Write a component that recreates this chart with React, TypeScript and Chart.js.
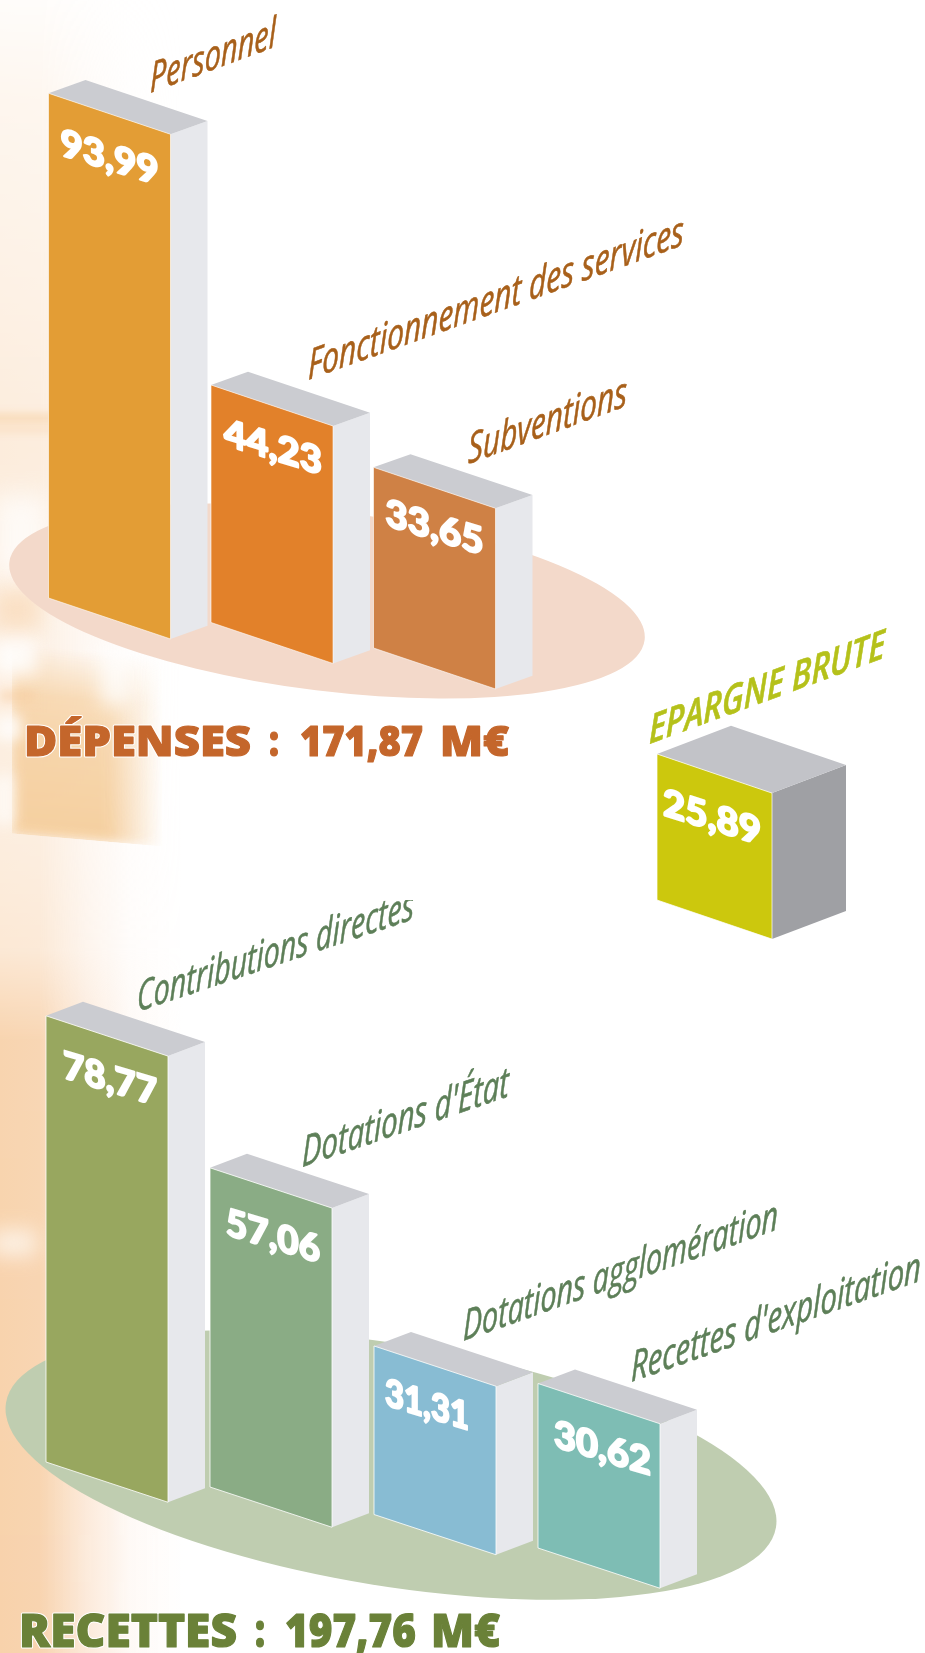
import React, { useEffect, useRef } from "react";
import { Chart, registerables } from "chart.js";

Chart.register(...registerables);

// ---- data ----
const depCategories = ["Personnel", "Fonctionnement des services", "Subventions"];
const depValues = [93.99, 44.23, 33.65];
const depColors = ["#e39d35", "#e2812a", "#cf8145"];
const depTitle = "DÉPENSES : 171,87 M€";

const recCategories = ["Contributions directes", "Dotations d'État", "Dotations agglomération", "Recettes d'exploitation"];
const recValues = [78.77, 57.06, 31.31, 30.62];
const recColors = ["#98a75f", "#8aac85", "#88bcd3", "#7ebdb4"];
const recTitle = "RECETTES : 197,76 M€";

const epCategories = ["EPARGNE BRUTE"];
const epValues = [25.89];
const epColors = ["#ccc80d"];

const fmt = (v: number) => v.toFixed(2).replace(".", ",");

// ---- style helpers ----
function skewText(ctx: CanvasRenderingContext2D, text: string, x: number, y: number, width: number, slope: number, font: string, color: string, outline?: string, thicken = 0) {
  ctx.save();
  ctx.font = font;
  ctx.textBaseline = "alphabetic";
  ctx.textAlign = "left";
  const sx = width / ctx.measureText(text).width;
  ctx.translate(x, y);
  ctx.transform(1, slope, 0, 1, 0, 0);
  ctx.scale(sx, 1);
  ctx.lineJoin = "round";
  if (outline) {
    ctx.strokeStyle = outline;
    ctx.lineWidth = thicken + 2;
    ctx.strokeText(text, 0, 0);
  }
  if (thicken) {
    ctx.strokeStyle = color;
    ctx.lineWidth = thicken;
    ctx.strokeText(text, 0, 0);
  }
  ctx.fillStyle = color;
  ctx.fillText(text, 0, 0);
  ctx.restore();
}

function poly(ctx: CanvasRenderingContext2D, pts: number[][], fill: string, stroke?: string) {
  ctx.beginPath();
  pts.forEach((p, i) => (i ? ctx.lineTo(p[0], p[1]) : ctx.moveTo(p[0], p[1])));
  ctx.closePath();
  ctx.fillStyle = fill;
  ctx.fill();
  if (stroke) {
    ctx.strokeStyle = stroke;
    ctx.lineWidth = 1;
    ctx.stroke();
  }
}

const bars3d = {
  id: "bars3d",
  beforeDatasetsDraw(chart: any, _a: any, o: any) {
    const { ctx } = chart;
    if (o.ellipse) {
      const e = o.ellipse;
      ctx.save();
      ctx.beginPath();
      ctx.ellipse(e.cx, e.cy, e.rx, e.ry, (e.angle * Math.PI) / 180, 0, Math.PI * 2);
      ctx.fillStyle = e.color;
      ctx.fill();
      ctx.restore();
    }
  },
  beforeDatasetDraw(chart: any, args: any, o: any) {
    const { ctx } = chart;
    const k = o.slope, d = o.depth, m = o.rise;
    args.meta.data.forEach((el: any, i: number) => {
      const p = el.getProps(["x", "y", "base", "width"], true);
      const w = p.width;
      const L = p.x - w / 2;
      const st = o.stagger[i];
      const top = p.y + st, bot = p.base + st;
      const color = chart.data.datasets[args.index].backgroundColor[i];
      poly(ctx, [[L + w, top + k * w], [L + w + d, top + k * w - d * m], [L + w + d, bot + k * w - d * m], [L + w, bot + k * w]], o.sideColor);
      poly(ctx, [[L, top], [L + d, top - d * m], [L + w + d, top + k * w - d * m], [L + w, top + k * w]], o.topColor);
      poly(ctx, [[L, top], [L + w, top + k * w], [L + w, bot + k * w], [L, bot]], color, o.edgeColor);
      const v = o.valueBox[i];
      skewText(ctx, fmt(chart.data.datasets[args.index].data[i]), L + v[0], top + v[1], v[2], k - 0.03, o.valueFont, "#ffffff", undefined, 2);
    });
    return false;
  },
  afterDatasetsDraw(chart: any, _a: any, o: any) {
    const { ctx } = chart;
    chart.data.labels.forEach((t: string, i: number) => {
      const l = o.labelBox[i];
      skewText(ctx, t, l[0], l[1], l[2], l[3], o.labelFont, o.labelColor, undefined, o.labelThicken || 0);
    });
    if (o.title) {
      const b = o.title;
      b.text.split(" ").forEach((word: string, i: number) => {
        const [x, w] = b.parts[i];
        skewText(ctx, word, x, b.y, w, 0, b.font, b.color, "#ffffff", 1.2);
      });
    }
  },
};

function make(canvas: HTMLCanvasElement, labels: string[], values: number[], colors: string[], cfg: any) {
  return new Chart(canvas, {
    type: "bar",
    data: { labels, datasets: [{ data: values, backgroundColor: colors, barThickness: cfg.barWidth, borderWidth: 0, base: cfg.min } as any] },
    options: {
      responsive: false,
      animation: false,
      events: [],
      layout: { padding: cfg.padding },
      scales: {
        x: { display: false },
        y: { display: false, min: cfg.min, max: cfg.max },
      },
      plugins: { legend: { display: false }, tooltip: { enabled: false }, bars3d: cfg.draw } as any,
    },
    plugins: [bars3d],
  });
}

const abs = (top: number, left: number): React.CSSProperties => ({ position: "absolute", top, left });

// soft patches of the faded photograph: [left, top, width, height, colour, opacity, blur]
const patches: [number, number, number, number, string, number, number][] = [
  [-20, 414, 120, 8, "#f4c489", 0.5, 4],
  [-10, 426, 70, 7, "#f6cb99", 0.35, 4],
  [-6, 495, 54, 80, "#ffffff", 0.7, 12],
  [-6, 590, 46, 40, "#f7cda0", 0.45, 10],
  [-6, 640, 42, 34, "#ffffff", 0.8, 8],
  [0, 690, 34, 12, "#f7cda0", 0.5, 5],
  [-4, 716, 26, 24, "#ffffff", 0.7, 6],
  [-6, 775, 20, 50, "#ffffff", 0.65, 7],
  [100, 650, 30, 56, "#ffffff", 0.7, 9],
  [-8, 1230, 44, 26, "#ffffff", 0.65, 10],
];

export default function App() {
  const a = useRef<HTMLCanvasElement>(null);
  const b = useRef<HTMLCanvasElement>(null);
  const c = useRef<HTMLCanvasElement>(null);

  useEffect(() => {
    const dep = make(a.current!, depCategories, depValues, depColors, {
      barWidth: 122,
      padding: { left: 28.25, right: 409.25, top: 0, bottom: 182 },
      min: 0,
      max: 111.36,
      draw: {
        slope: 0.336, depth: 37, rise: 0.356,
        stagger: [0, 24.5, 50],
        sideColor: "#e7e8ec", topColor: "#cbccd1", edgeColor: "rgba(255,255,255,0.6)",
        valueBox: [[12, 62, 98], [13, 60, 98], [12, 58, 98]],
        valueFont: "900 38px Lato",
        labelBox: [
          [150, 93, 126, -0.37],
          [308, 380, 376, -0.36],
          [468, 464, 159, -0.367],
        ],
        labelFont: "italic 500 42px 'Open Sans'",
        labelColor: "#a8601a",
        labelThicken: 0.6,
        ellipse: { cx: 327, cy: 601, rx: 320, ry: 90, angle: 7, color: "#f3d9ca" },
        title: { text: depTitle, y: 756, parts: [[24, 227], [269, 10], [300, 123], [440, 69]], font: "800 42px 'Open Sans'", color: "#c4662b" },
      },
    });
    const rec = make(b.current!, recCategories, recValues, recColors, {
      barWidth: 122,
      padding: { left: 25, right: 244, top: 0, bottom: 191 },
      min: 2.5,
      max: 98.57,
      draw: {
        slope: 0.33, depth: 37, rise: 0.38,
        stagger: [0, 25, 52.5, 86],
        sideColor: "#e7e8ec", topColor: "#cbccd1", edgeColor: "rgba(255,255,255,0.8)",
        valueBox: [[17, 62, 94], [16, 67, 94], [11, 59, 84], [16, 63, 97]],
        valueFont: "900 38px Lato",
        labelBox: [
          [137, 112, 277, -0.336],
          [302, 267, 207, -0.343],
          [463, 441, 315, -0.355],
          [631, 482, 290, -0.35],
        ],
        labelFont: "italic 500 42px 'Open Sans'",
        labelColor: "#5d7f58",
        labelThicken: 0.6,
        ellipse: { cx: 391, cy: 565, rx: 390, ry: 121, angle: 9.2, color: "#bfcdb0" },
        title: { text: recTitle, y: 747, parts: [[19, 218], [255, 10], [285, 131], [431, 69]], font: "800 46px 'Open Sans'", color: "#6a8138" },
      },
    });
    const ep = make(c.current!, epCategories, epValues, epColors, {
      barWidth: 115,
      padding: { left: 52, right: 148, top: 0, bottom: 80 },
      min: 0,
      max: 49.65,
      draw: {
        slope: 0.34, depth: 74, rise: 0.38,
        stagger: [0],
        sideColor: "#9fa0a4", topColor: "#c2c3c8", edgeColor: "rgba(255,255,255,0.7)",
        valueBox: [[6, 61, 98]],
        valueFont: "900 38px Lato",
        labelBox: [[49, 124, 236, -0.367]],
        labelFont: "italic 600 40px 'Open Sans'",
        labelColor: "#b5c11a",
        labelThicken: 0.6,
      },
    });
    return () => {
      dep.destroy();
      rec.destroy();
      ep.destroy();
    };
  }, []);

  return (
    <div style={{ position: "absolute", top: 0, left: 0, width: 925, height: 1653, overflow: "hidden", background: "#ffffff" }}>
      {/* faded photographic band on the left */}
      <div style={{ ...abs(0, 0), width: 925, height: 1653, background: "linear-gradient(90deg, rgba(248,210,171,1) 0px, rgba(248,212,176,1) 40px, rgba(251,228,208,0.8) 85px, rgba(254,243,235,0.45) 130px, rgba(255,255,255,0) 185px)", WebkitMaskImage: "linear-gradient(180deg, rgba(0,0,0,0.06) 0px, rgba(0,0,0,0.2) 100px, rgba(0,0,0,0.32) 300px, rgba(0,0,0,0.42) 450px, rgba(0,0,0,0.32) 600px, rgba(0,0,0,0.4) 850px, rgba(0,0,0,0.5) 950px, rgba(0,0,0,0.95) 1040px, #000 1653px)" }} />
      <div style={{ ...abs(650, 12), width: 150, height: 190, background: "linear-gradient(90deg, #f5cf9f 0px, #f5cf9f 95px, rgba(245,207,159,0) 150px)", filter: "blur(6px)", transform: "skewY(5deg)", WebkitMaskImage: "linear-gradient(180deg, rgba(0,0,0,0) 0px, rgba(0,0,0,0.7) 50px, rgba(0,0,0,0.85) 100px, #000 190px)" }} />
      {patches.map((p, i) => (
        <div key={i} style={{ ...abs(p[1], p[0]), width: p[2], height: p[3], background: p[4], opacity: p[5], filter: `blur(${p[6]}px)` }} />
      ))}
      <canvas ref={a} width={925} height={780} style={{ ...abs(0, 0), display: "block" }} />
      <canvas ref={b} width={925} height={753} style={{ ...abs(900, 0), display: "block" }} />
      <canvas ref={c} width={325} height={360} style={{ ...abs(620, 600), display: "block" }} />
    </div>
  );
}
